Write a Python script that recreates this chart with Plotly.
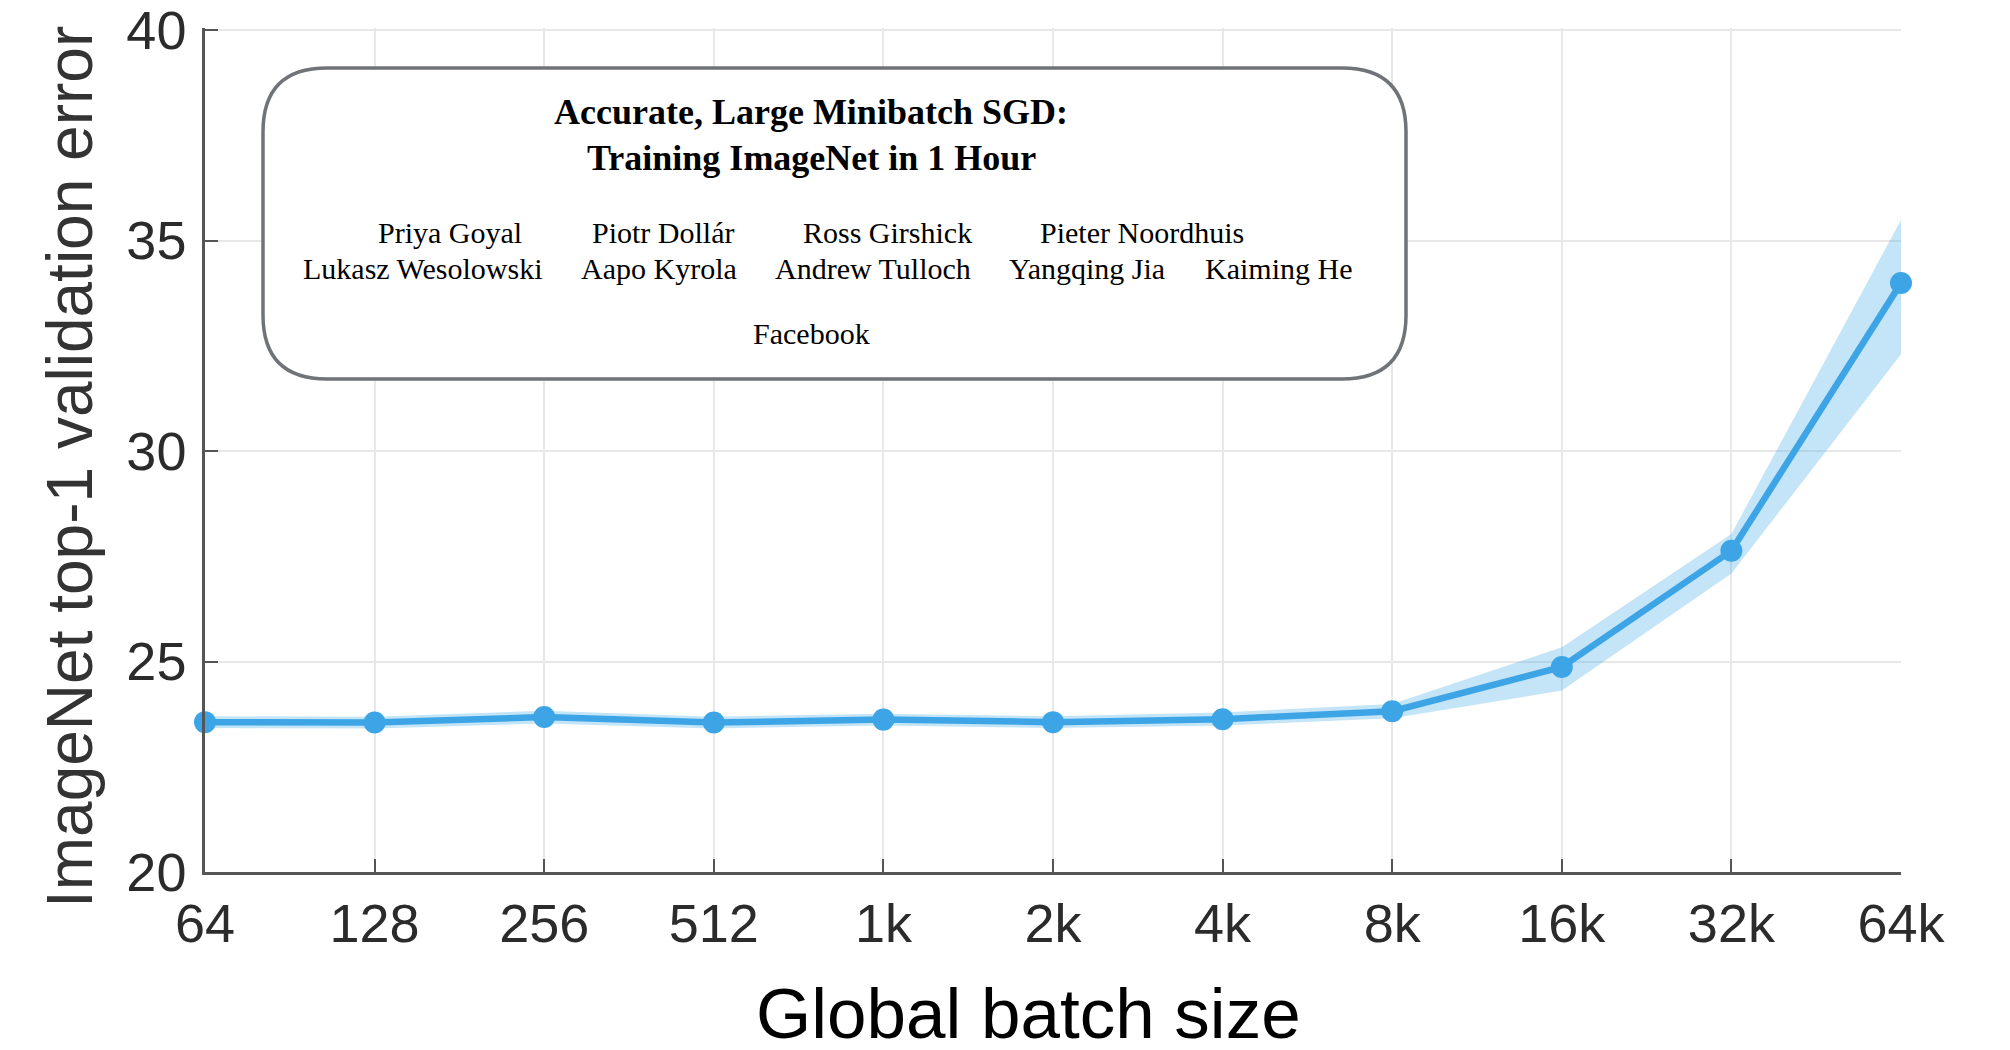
import plotly.graph_objects as go

# ---- data ----
batch_labels = ["64", "128", "256", "512", "1k", "2k", "4k", "8k", "16k", "32k", "64k"]
error_mean = [23.56, 23.55, 23.68, 23.55, 23.62, 23.56, 23.63, 23.82, 24.87, 27.63, 33.99]
error_upper = [23.70, 23.69, 23.83, 23.69, 23.76, 23.70, 23.79, 23.99, 25.34, 28.03, 35.49]
error_lower = [23.42, 23.41, 23.53, 23.41, 23.48, 23.42, 23.48, 23.65, 24.31, 27.09, 32.30]
y_ticks = [20, 25, 30, 35, 40]

paper_title = ["Accurate, Large Minibatch SGD:", "Training ImageNet in 1 Hour"]
authors_row1 = ["Priya Goyal", "Piotr Dollár", "Ross Girshick", "Pieter Noordhuis"]
authors_row2 = ["Lukasz Wesolowski", "Aapo Kyrola", "Andrew Tulloch", "Yangqing Jia", "Kaiming He"]
affiliation = "Facebook"

# ---- layout geometry (screen pixels; page body has an 8px margin) ----
OFF = 8
W, H = 2000, 1040
L, R, T, B = 205 - OFF, 1901 - OFF, 28 - OFF, 872 - OFF
PW, PH = R - L, B - T

def px(xs):
    return (xs - OFF - L) / PW

def py(ys):
    return (B - (ys - OFF)) / PH

line_color = "rgb(61,165,230)"
band_color = "rgba(61,165,230,0.30)"

fig = go.Figure()
fig.add_trace(go.Scatter(x=batch_labels, y=error_upper, mode="lines",
                         line=dict(width=0, color=band_color), showlegend=False,
                         hoverinfo="skip"))
fig.add_trace(go.Scatter(x=batch_labels, y=error_lower, mode="lines",
                         line=dict(width=0, color=band_color), fill="tonexty",
                         fillcolor=band_color, showlegend=False, hoverinfo="skip"))
fig.add_trace(go.Scatter(x=batch_labels, y=error_mean, mode="lines+markers",
                         line=dict(width=6.5, color=line_color),
                         marker=dict(size=22, color=line_color),
                         cliponaxis=False, showlegend=False))

axis_font = dict(family="Liberation Sans, Arial, Helvetica, sans-serif", size=54, color="#2b2b2b")

fig.update_xaxes(type="category", range=[0, len(batch_labels) - 1],
                 showgrid=True, gridcolor="#e8e8e8", gridwidth=2,
                 showline=True, linecolor="#555555", linewidth=2.5,
                 ticks="inside", ticklen=13, tickwidth=1.5, tickcolor="#555555",
                 tickfont=axis_font, ticklabelstandoff=2, zeroline=False,
                 ticklabeloverflow="allow", automargin=False)
fig.update_yaxes(range=[20, 40.05], tickvals=y_ticks,
                 showgrid=True, gridcolor="#e8e8e8", gridwidth=2,
                 showline=True, linecolor="#555555", linewidth=2.5,
                 ticks="inside", ticklen=13, tickwidth=1.5, tickcolor="#555555",
                 tickfont=axis_font, ticklabelstandoff=5, zeroline=False,
                 ticklabeloverflow="allow", automargin=False)

# rounded box
bx0, bx1, by0, by1 = px(263), px(1406), py(379), py(68)
rx, ry = 64 / PW, 64 / PH
path = (f"M {bx0+rx},{by1} L {bx1-rx},{by1} Q {bx1},{by1} {bx1},{by1-ry} "
        f"L {bx1},{by0+ry} Q {bx1},{by0} {bx1-rx},{by0} "
        f"L {bx0+rx},{by0} Q {bx0},{by0} {bx0},{by0+ry} "
        f"L {bx0},{by1-ry} Q {bx0},{by1} {bx0+rx},{by1} Z")
fig.add_shape(type="path", path=path, xref="paper", yref="paper",
              line=dict(color="#707378", width=3.5), fillcolor="white", layer="above")

serif = "Liberation Serif, Times New Roman, serif"
ann = []
for txt, yy in zip(paper_title, [112, 158]):
    ann.append(dict(text=f"<b>{txt}</b>", x=px(811), y=py(yy), xref="paper", yref="paper",
                    showarrow=False, xanchor="center", yanchor="middle",
                    font=dict(family=serif, size=36, color="black")))
for txt, xx in zip(authors_row1, [450, 663, 887, 1142]):
    ann.append(dict(text=txt, x=px(xx), y=py(233), xref="paper", yref="paper",
                    showarrow=False, xanchor="center", yanchor="middle",
                    font=dict(family=serif, size=30, color="black")))
for txt, xx in zip(authors_row2, [423, 659, 873, 1087, 1278]):
    ann.append(dict(text=txt, x=px(xx), y=py(268), xref="paper", yref="paper",
                    showarrow=False, xanchor="center", yanchor="middle",
                    font=dict(family=serif, size=30, color="black")))
ann.append(dict(text=affiliation, x=px(811), y=py(333), xref="paper", yref="paper",
                showarrow=False, xanchor="center", yanchor="middle",
                font=dict(family=serif, size=30, color="black")))

# axis titles
ann.append(dict(text="ImageNet top-1 validation error", x=px(70), y=py(467),
                xref="paper", yref="paper", showarrow=False, textangle=-90,
                xanchor="center", yanchor="middle",
                font=dict(family="Liberation Sans, Arial, sans-serif", size=64, color="#333333")))
ann.append(dict(text="Global batch size", x=px(1028), y=py(1014),
                xref="paper", yref="paper", showarrow=False,
                xanchor="center", yanchor="middle",
                font=dict(family="Liberation Sans, Arial, sans-serif", size=71, color="black")))

fig.update_layout(width=W, height=H, autosize=False,
                  margin=dict(l=L, r=W - R, t=T, b=H - B, pad=0, autoexpand=False),
                  plot_bgcolor="white", paper_bgcolor="white",
                  annotations=ann, showlegend=False)

fig.write_html("out.html")
